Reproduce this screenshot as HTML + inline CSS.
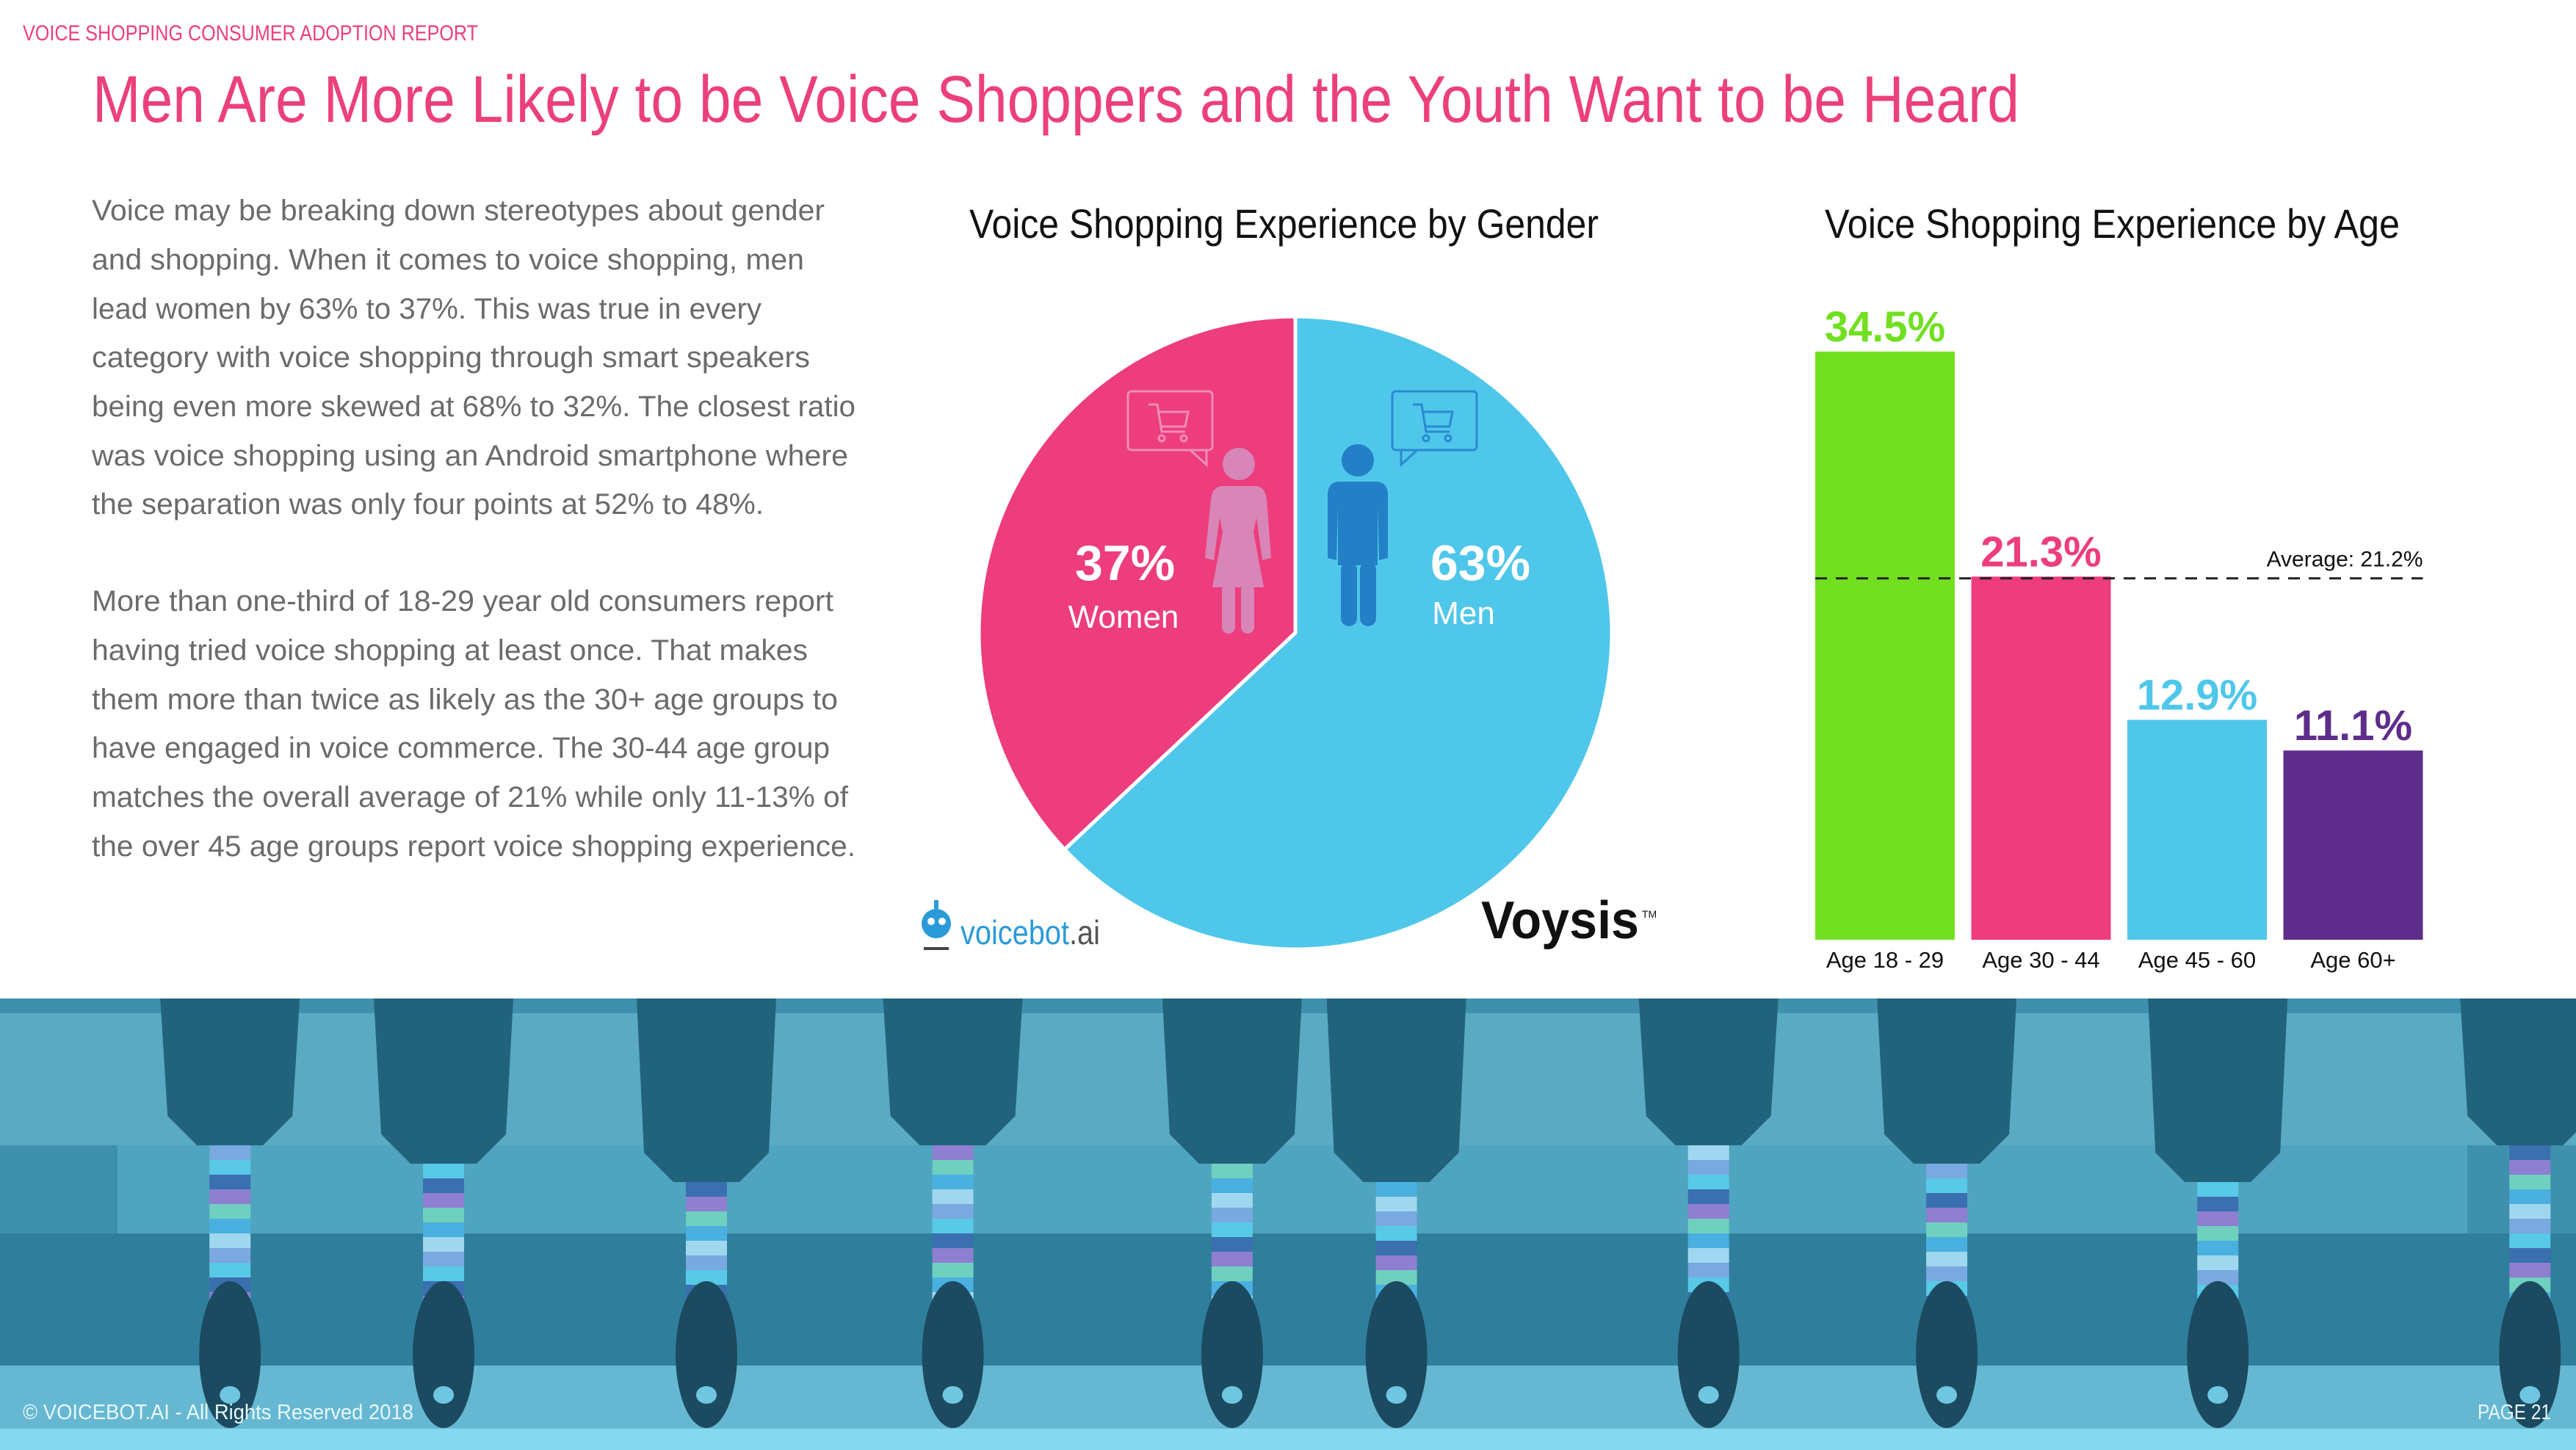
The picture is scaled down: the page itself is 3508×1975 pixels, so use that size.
<!DOCTYPE html>
<html><head><meta charset="utf-8">
<style>
html,body{margin:0;padding:0;background:#fff;}
svg{display:block;}
text{font-family:"Liberation Sans",sans-serif;}
</style></head>
<body>
<svg id="page" width="3508" height="1975" viewBox="0 0 3508 1975" xmlns="http://www.w3.org/2000/svg">
<rect x="0" y="0" width="3508" height="1975" fill="#ffffff"/>
<text x="31" y="55" font-size="30" fill="#ec407a" textLength="620" lengthAdjust="spacingAndGlyphs">VOICE SHOPPING CONSUMER ADOPTION REPORT</text>
<text x="126" y="166" font-size="90" fill="#ec407a" textLength="2624" lengthAdjust="spacingAndGlyphs">Men Are More Likely to be Voice Shoppers and the Youth Want to be Heard</text>

<g font-size="40" fill="#6b6b6b">
<text x="125" y="300" textLength="998" lengthAdjust="spacingAndGlyphs">Voice may be breaking down stereotypes about gender</text>
<text x="125" y="367" textLength="970" lengthAdjust="spacingAndGlyphs">and shopping. When it comes to voice shopping, men</text>
<text x="125" y="434" textLength="912" lengthAdjust="spacingAndGlyphs">lead women by 63% to 37%. This was true in every</text>
<text x="125" y="500" textLength="978" lengthAdjust="spacingAndGlyphs">category with voice shopping through smart speakers</text>
<text x="125" y="567" textLength="1040" lengthAdjust="spacingAndGlyphs">being even more skewed at 68% to 32%. The closest ratio</text>
<text x="125" y="634" textLength="1030" lengthAdjust="spacingAndGlyphs">was voice shopping using an Android smartphone where</text>
<text x="125" y="700" textLength="915" lengthAdjust="spacingAndGlyphs">the separation was only four points at 52% to 48%.</text>
<text x="125" y="832" textLength="1010" lengthAdjust="spacingAndGlyphs">More than one-third of 18-29 year old consumers report</text>
<text x="125" y="899" textLength="975" lengthAdjust="spacingAndGlyphs">having tried voice shopping at least once. That makes</text>
<text x="125" y="966" textLength="1016" lengthAdjust="spacingAndGlyphs">them more than twice as likely as the 30+ age groups to</text>
<text x="125" y="1032" textLength="1005" lengthAdjust="spacingAndGlyphs">have engaged in voice commerce. The 30-44 age group</text>
<text x="125" y="1099" textLength="1030" lengthAdjust="spacingAndGlyphs">matches the overall average of 21% while only 11-13% of</text>
<text x="125" y="1166" textLength="1040" lengthAdjust="spacingAndGlyphs">the over 45 age groups report voice shopping experience.</text>
</g>

<text x="1320" y="324" font-size="56" fill="#111" textLength="857" lengthAdjust="spacingAndGlyphs">Voice Shopping Experience by Gender</text>
<text x="2485" y="324" font-size="56" fill="#111" textLength="783" lengthAdjust="spacingAndGlyphs">Voice Shopping Experience by Age</text>

<g id="pie"></g>
<g id="bars"></g>

<g>
<circle cx="1275" cy="1258" r="20" fill="#2a9bd8"/>
<circle cx="1268" cy="1255" r="5" fill="#fff"/><circle cx="1283" cy="1255" r="5" fill="#fff"/>
<rect x="1272" y="1226" width="6" height="12" fill="#2a9bd8"/>
<rect x="1258" y="1290" width="34" height="4" fill="#444"/>
<text x="1308" y="1286" font-size="46" fill="#2a9bd8" textLength="190" lengthAdjust="spacingAndGlyphs">voicebot<tspan fill="#555">.ai</tspan></text>
</g>
<text x="2017" y="1278" font-size="72" font-weight="bold" fill="#111" textLength="215" lengthAdjust="spacingAndGlyphs">Voysis</text>
<text x="2236" y="1250" font-size="14" fill="#111">TM</text>

<g>
<rect x="0" y="1360" width="3508" height="615" fill="#3f90ad"/>
<rect x="0" y="1360" width="3508" height="200" fill="#5aaac4"/>
<rect x="0" y="1360" width="3508" height="20" fill="#3f90ad"/>
<rect x="160" y="1560" width="3200" height="120" fill="#4fa4bf"/>
<rect x="0" y="1680" width="3508" height="180" fill="#2f7f9c"/>
<rect x="0" y="1860" width="3508" height="90" fill="#66b8d2"/>
<rect x="0" y="1946" width="3508" height="29" fill="#86d8f0"/>
<g id="legs"></g>
<text x="31" y="1933" font-size="29" fill="#e8f7fc" textLength="532" lengthAdjust="spacingAndGlyphs">© VOICEBOT.AI - All Rights Reserved 2018</text>
<text x="3474" y="1933" font-size="29" fill="#e8f7fc" text-anchor="end" textLength="100" lengthAdjust="spacingAndGlyphs">PAGE 21</text>
</g>
</svg>
<script>
const genderLabels = ["Women","Men"];
const genderShares = [37,63];
const genderColors = ["#ed3d7d","#4fc7ea"];
const ageCategories = ["Age 18 - 29","Age 30 - 44","Age 45 - 60","Age 60+"];
const ageValues = [34.5,21.3,12.9,11.1];
const ageLabels = ["34.5%","21.3%","12.9%","11.1%"];
const ageColors = ["#72e021","#ed3d7d","#4fc7ea","#5e2d8c"];
const averageValue = [21.2];

const NS="http://www.w3.org/2000/svg";
function mk(tag,attrs,parent){const e=document.createElementNS(NS,tag);for(const k in attrs)e.setAttribute(k,attrs[k]);parent.appendChild(e);return e;}

const pie=document.getElementById('pie');
const cx=1764, cy=862, r=431;
const total=genderShares.reduce((a,b)=>a+b,0);
function pt(frac){const a=frac*2*Math.PI;return [cx+r*Math.sin(a), cy-r*Math.cos(a)];}
const slices=[[-genderShares[0]/total,0],[0,genderShares[1]/total]];
slices.forEach((s,i)=>{
  const p0=pt(s[0]), p1=pt(s[1]);
  const large=(s[1]-s[0])>0.5?1:0;
  const p=mk('path',{d:`M${cx},${cy} L${p0[0]},${p0[1]} A${r},${r} 0 ${large} 1 ${p1[0]},${p1[1]} Z`,fill:genderColors[i],stroke:'#fff','stroke-width':5},pie);
  
  
});
[[1532,genderShares[0]+'%',genderLabels[0],855],[2016,genderShares[1]+'%',genderLabels[1],850]].forEach((l,i)=>{
  const t=mk('text',{x:l[0],y:790,'font-size':68,'font-weight':'bold',fill:'#fff','text-anchor':'middle'},pie);
  t.textContent=l[1];
  
  
  const t2=mk('text',{x:i?1993:1530,y:l[3],'font-size':44,fill:'#fff','text-anchor':'middle'},pie);
  t2.textContent=l[2];
  
  
});
const wf=mk('g',{fill:'#d886b8'},pie);


mk('circle',{cx:1687,cy:632,r:22},wf);
mk('path',{d:'M1663,662 L1711,662 Q1723,664 1725,680 L1731,760 L1719,763 L1711,705 L1707,725 L1721,800 L1651,800 L1665,725 L1661,705 L1653,763 L1641,760 L1649,680 Q1651,664 1663,662 Z'},wf);
mk('rect',{x:1664,y:795,width:18,height:68,rx:9},wf);
mk('rect',{x:1690,y:795,width:18,height:68,rx:9},wf);
const mf=mk('g',{fill:'#2380c6'},pie);


mk('circle',{cx:1849,cy:627,r:22},mf);
mk('path',{d:'M1822,656 L1876,656 Q1890,658 1890,674 L1890,760 L1878,763 L1876,690 L1876,770 L1822,770 L1822,690 L1820,763 L1808,760 L1808,674 Q1808,658 1822,656 Z'},mf);
mk('rect',{x:1826,y:765,width:22,height:88,rx:11},mf);
mk('rect',{x:1852,y:765,width:22,height:88,rx:11},mf);
[[1536,'#f08cb7'],[1896,'#2a8ad0']].forEach((b,i)=>{
  const g=mk('g',{fill:'none',stroke:b[1],'stroke-width':3},pie);
  
  
  const x=b[0],y=533;
  mk('rect',{x:x,y:y,width:115,height:80,rx:5},g);
  mk('path',{d:i?`M${x+12},${y+80} L${x+12},${y+100} L${x+34},${y+80}`:`M${x+85},${y+80} L${x+107},${y+100} L${x+107},${y+80}`},g);
  mk('path',{d:`M${x+28},${y+18} L${x+40},${y+18} L${x+46},${y+55} L${x+78},${y+55} M${x+42},${y+28} L${x+82},${y+28} L${x+78},${y+48} L${x+45},${y+48}`},g);
  mk('circle',{cx:x+46,cy:y+64,r:4},g);mk('circle',{cx:x+76,cy:y+64,r:4},g);
});

const bars=document.getElementById('bars');
const base=1280, pxPer=10.38*2.2372, x0=2472, step=212.5, bw=190;
function yOf(v){return base-v*pxPer;}
ageValues.forEach((v,i)=>{
  const x=x0+i*step;
  const rc=mk('rect',{x:x,y:yOf(v),width:bw,height:base-yOf(v),fill:ageColors[i]},bars);
  
  
  const t=mk('text',{x:x+bw/2,y:yOf(v)-14,'font-size':58,'font-weight':'bold',fill:ageColors[i],'text-anchor':'middle'},bars);
  t.textContent=ageLabels[i];
  
  
  const c=mk('text',{x:x+bw/2,y:1318,'font-size':31,fill:'#111','text-anchor':'middle'},bars);
  c.textContent=ageCategories[i];
  
  
});
const ay=yOf(averageValue[0]);
const al=mk('line',{x1:x0,x2:x0+3*step+bw,y1:ay,y2:ay,stroke:'#222','stroke-width':3,'stroke-dasharray':'16 12'},bars);


const at=mk('text',{x:x0+3*step+bw,y:ay-16,'font-size':30,fill:'#111','text-anchor':'end'},bars);
at.textContent='Average: '+averageValue[0]+'%';



const legs=document.getElementById('legs');
[140,270,430,580,750,850,1040,1185,1350,1540].forEach((tx,i)=>{
  const x=tx*2.2372;
  const g=mk('g',{},legs);
  
  
  const pb=1560+(i%3)*25;
  mk('path',{d:`M${x-95},1360 L${x+95},1360 L${x+85},${pb-40} L${x+45},${pb} L${x-45},${pb} L${x-85},${pb-40} Z`,fill:'#22637c'},g);
  const sc=['#7aa8e0','#58c9e6','#3a6fb0','#8f7fd0','#6fd0c0','#4ab0e0','#9fd8ee'];
  const n=Math.ceil((1790-pb)/20);
  for(let k=0;k<n;k++) mk('rect',{x:x-28,y:pb+k*20,width:56,height:20,fill:sc[(k+i)%sc.length]},g);
  mk('ellipse',{cx:x,cy:1845,rx:42,ry:100,fill:'#1c4a60'},g);
  mk('ellipse',{cx:x,cy:1900,rx:14,ry:12,fill:'#6ec6e0'},g);
});
</script>
</body></html>
